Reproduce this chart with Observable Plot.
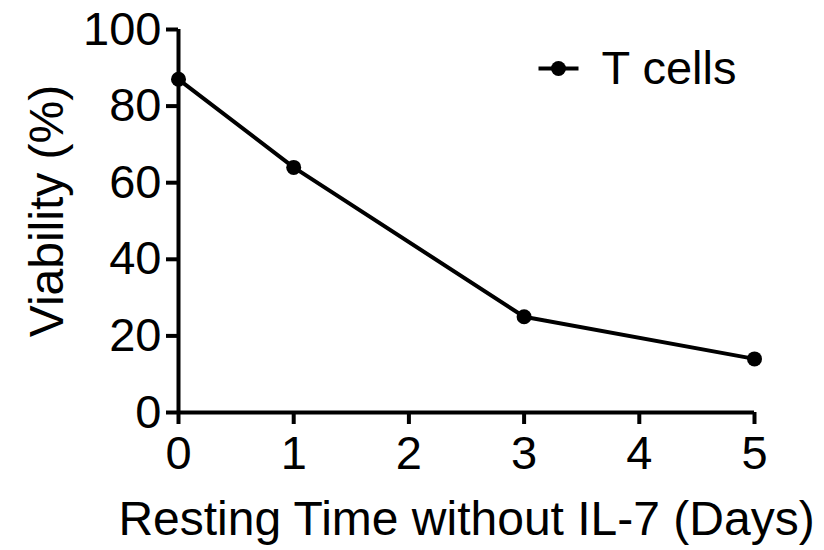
<!DOCTYPE html>
<html>
<head>
<meta charset="utf-8">
<script src="https://cdn.jsdelivr.net/npm/d3@7"></script>
<script src="https://cdn.jsdelivr.net/npm/@observablehq/plot@0.6"></script>
<style>
  html, body { margin: 0; padding: 0; background: #fff; }
</style>
</head>
<body>
<div id="chart"></div>
<script>
const days = [0, 1, 3, 5];
const viability = [87, 64, 25, 14];
const seriesName = "T cells";
const xTicks = [0, 1, 2, 3, 4, 5];
const yTicks = [0, 20, 40, 60, 80, 100];
const xLabel = "Resting Time without IL-7 (Days)";
const yLabel = "Viability (%)";

const data = days.map((d, i) => ({day: d, value: viability[i]}));

const lineSymbol = {
  draw(context, size) {
    context.moveTo(-20, 0);
    context.lineTo(20, 0);
  }
};

const chart = Plot.plot({
  width: 824,
  height: 550,
  marginLeft: 178,
  marginRight: 70,
  marginTop: 29,
  marginBottom: 138,
  style: {fontFamily: "'Liberation Sans', Arial, sans-serif", color: "#000", background: "#fff"},
  x: {domain: [0, 5]},
  y: {domain: [0, 100]},
  marks: [
    Plot.axisX({ticks: xTicks, tickSize: 12, tickPadding: 11, fontSize: 47, strokeWidth: 4, tickFormat: d => d, label: null}),
    Plot.axisY({ticks: yTicks, tickSize: 12, tickPadding: 5, fontSize: 47, strokeWidth: 4, tickFormat: d => d, label: null}),
    Plot.ruleY([0], {stroke: "#000", strokeWidth: 4}),
    Plot.ruleX([0], {stroke: "#000", strokeWidth: 4}),
    Plot.line(data, {x: "day", y: "value", stroke: "#000", strokeWidth: 4}),
    Plot.dot(data, {x: "day", y: "value", r: 7.5, fill: "#000", stroke: "none"}),
    Plot.text([xLabel], {text: d => d, frameAnchor: "bottom", dy: 107, fontSize: 48, lineAnchor: "middle", fill: "#000"}),
    Plot.text([yLabel], {text: d => d, frameAnchor: "left", dx: -131, dy: -10, rotate: -90, textAnchor: "middle", lineAnchor: "middle", fontSize: 48, fill: "#000"}),
    Plot.dot([seriesName], {frameAnchor: "top-right", dx: -196, dy: 39, symbol: lineSymbol, r: 20, stroke: "#000", strokeWidth: 4, fill: "none"}),
    Plot.dot([seriesName], {frameAnchor: "top-right", dx: -196, dy: 39, r: 7.5, fill: "#000", stroke: "none"}),
    Plot.text([seriesName], {text: d => d, frameAnchor: "top-right", dx: -153, dy: 39, textAnchor: "start", lineAnchor: "middle", fontSize: 47, fill: "#000"})
  ]
});
document.getElementById("chart").appendChild(chart);
</script>
</body>
</html>
